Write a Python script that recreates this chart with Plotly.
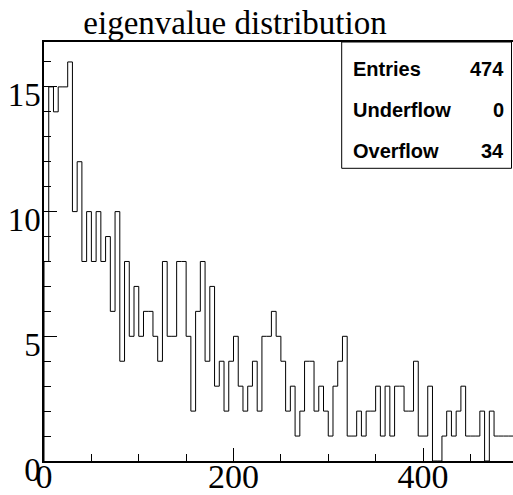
import plotly.graph_objects as go

# Histogram definition: 100 bins of width 5 between 0 and 500
bin_width = 5
x_low = 0
x_high = 500
counts = [8, 15, 14, 15, 15, 16, 10, 12, 8, 10,
          8, 10, 8, 9, 6, 10, 4, 8, 5, 7,
          5, 6, 6, 5, 4, 8, 5, 5, 8, 8,
          5, 2, 6, 8, 4, 7, 3, 4, 2, 4,
          5, 3, 2, 3, 4, 2, 5, 5, 6, 5,
          4, 2, 3, 1, 2, 4, 4, 2, 3, 2,
          1, 3, 4, 5, 1, 1, 2, 1, 2, 2,
          3, 1, 3, 1, 3, 3, 2, 2, 4, 1,
          1, 3, 0, 0, 1, 2, 1, 2, 3, 1,
          1, 1, 2, 0, 2, 1, 1, 1, 1, 1]

stat_labels = ["Entries", "Underflow", "Overflow"]
stat_values = [474, 0, 34]
title_text = "eigenvalue distribution"

x_major_ticks = [0, 200, 400]
y_major_ticks = [0, 5, 10, 15]

# Step outline of the histogram (ROOT "hist" draw style)
edges = [x_low + i * bin_width for i in range(len(counts) + 1)]
xs = [edges[0]] + edges + [edges[-1]]
ys = [0] + counts + [counts[-1], 0]

W, H = 513, 495
ML, MR, MT, MB = 44, 0, 42, 34
y_max = max(counts) * 1.05

fig = go.Figure()
fig.add_trace(go.Scatter(
    x=xs, y=ys, mode="lines", line_shape="hv",
    line=dict(color="black", width=1),
    hoverinfo="skip", showlegend=False,
))

serif = "Liberation Serif, Times New Roman, serif"
sans = "Liberation Sans, Arial, sans-serif"

fig.update_layout(
    width=W, height=H,
    margin=dict(l=ML, r=MR, t=MT, b=MB, pad=0),
    paper_bgcolor="white", plot_bgcolor="white",
    template="none",
    title=dict(text=title_text, font=dict(family=serif, size=33, color="black"),
               x=235 / W, xanchor="center", xref="container",
               y=1 - 22 / H, yanchor="middle", yref="container"),
    xaxis=dict(
        range=[x_low, (W - ML) / 0.9475], showgrid=False, zeroline=False,
        showline=True, linecolor="black", linewidth=1.5, mirror=True,
        ticks="inside", tickvals=x_major_ticks, ticklen=13, tickwidth=1,
        tickcolor="black",
        minor=dict(dtick=50, tick0=0, ticks="inside", ticklen=7, tickwidth=1,
                   tickcolor="black", showgrid=False),
        tickfont=dict(family=serif, size=34, color="black"),
        ticklabelstandoff=-16,
        automargin=False,
    ),
    yaxis=dict(
        range=[0, y_max], showgrid=False, zeroline=False,
        showline=True, linecolor="black", linewidth=1.5, mirror=False,
        ticks="inside", tickvals=y_major_ticks, ticklen=13, tickwidth=1,
        tickcolor="black",
        minor=dict(dtick=1, tick0=0, ticks="inside", ticklen=7, tickwidth=1,
                   tickcolor="black", showgrid=False),
        tickfont=dict(family=serif, size=33, color="black"),
        ticklabelshift=8,
        ticklabelstandoff=-5,
        automargin=False,
    ),
)

# Statistics box
pw = W - ML - MR
ph = H - MT - MB


def px_x(p):
    return (p - ML) / pw


def px_y(p):
    return (H - MB - p) / ph


fig.add_shape(type="rect", xref="paper", yref="paper",
              x0=px_x(341.7), x1=px_x(511.5), y0=px_y(168.3), y1=1,
              line=dict(color="black", width=1), fillcolor="white", layer="above")

row_y = [68.7, 109.7, 150.7]
for lab, val, yy in zip(stat_labels, stat_values, row_y):
    fig.add_annotation(text=f"<b>{lab}</b>", xref="paper", yref="paper",
                       x=px_x(351), y=px_y(yy), xanchor="left", yanchor="middle",
                       showarrow=False, font=dict(family=sans, size=20, color="black"))
    fig.add_annotation(text=f"<b>{val}</b>", xref="paper", yref="paper",
                       x=px_x(506), y=px_y(yy), xanchor="right", yanchor="middle",
                       showarrow=False, font=dict(family=sans, size=20, color="black"))

fig.write_html("out.html")
